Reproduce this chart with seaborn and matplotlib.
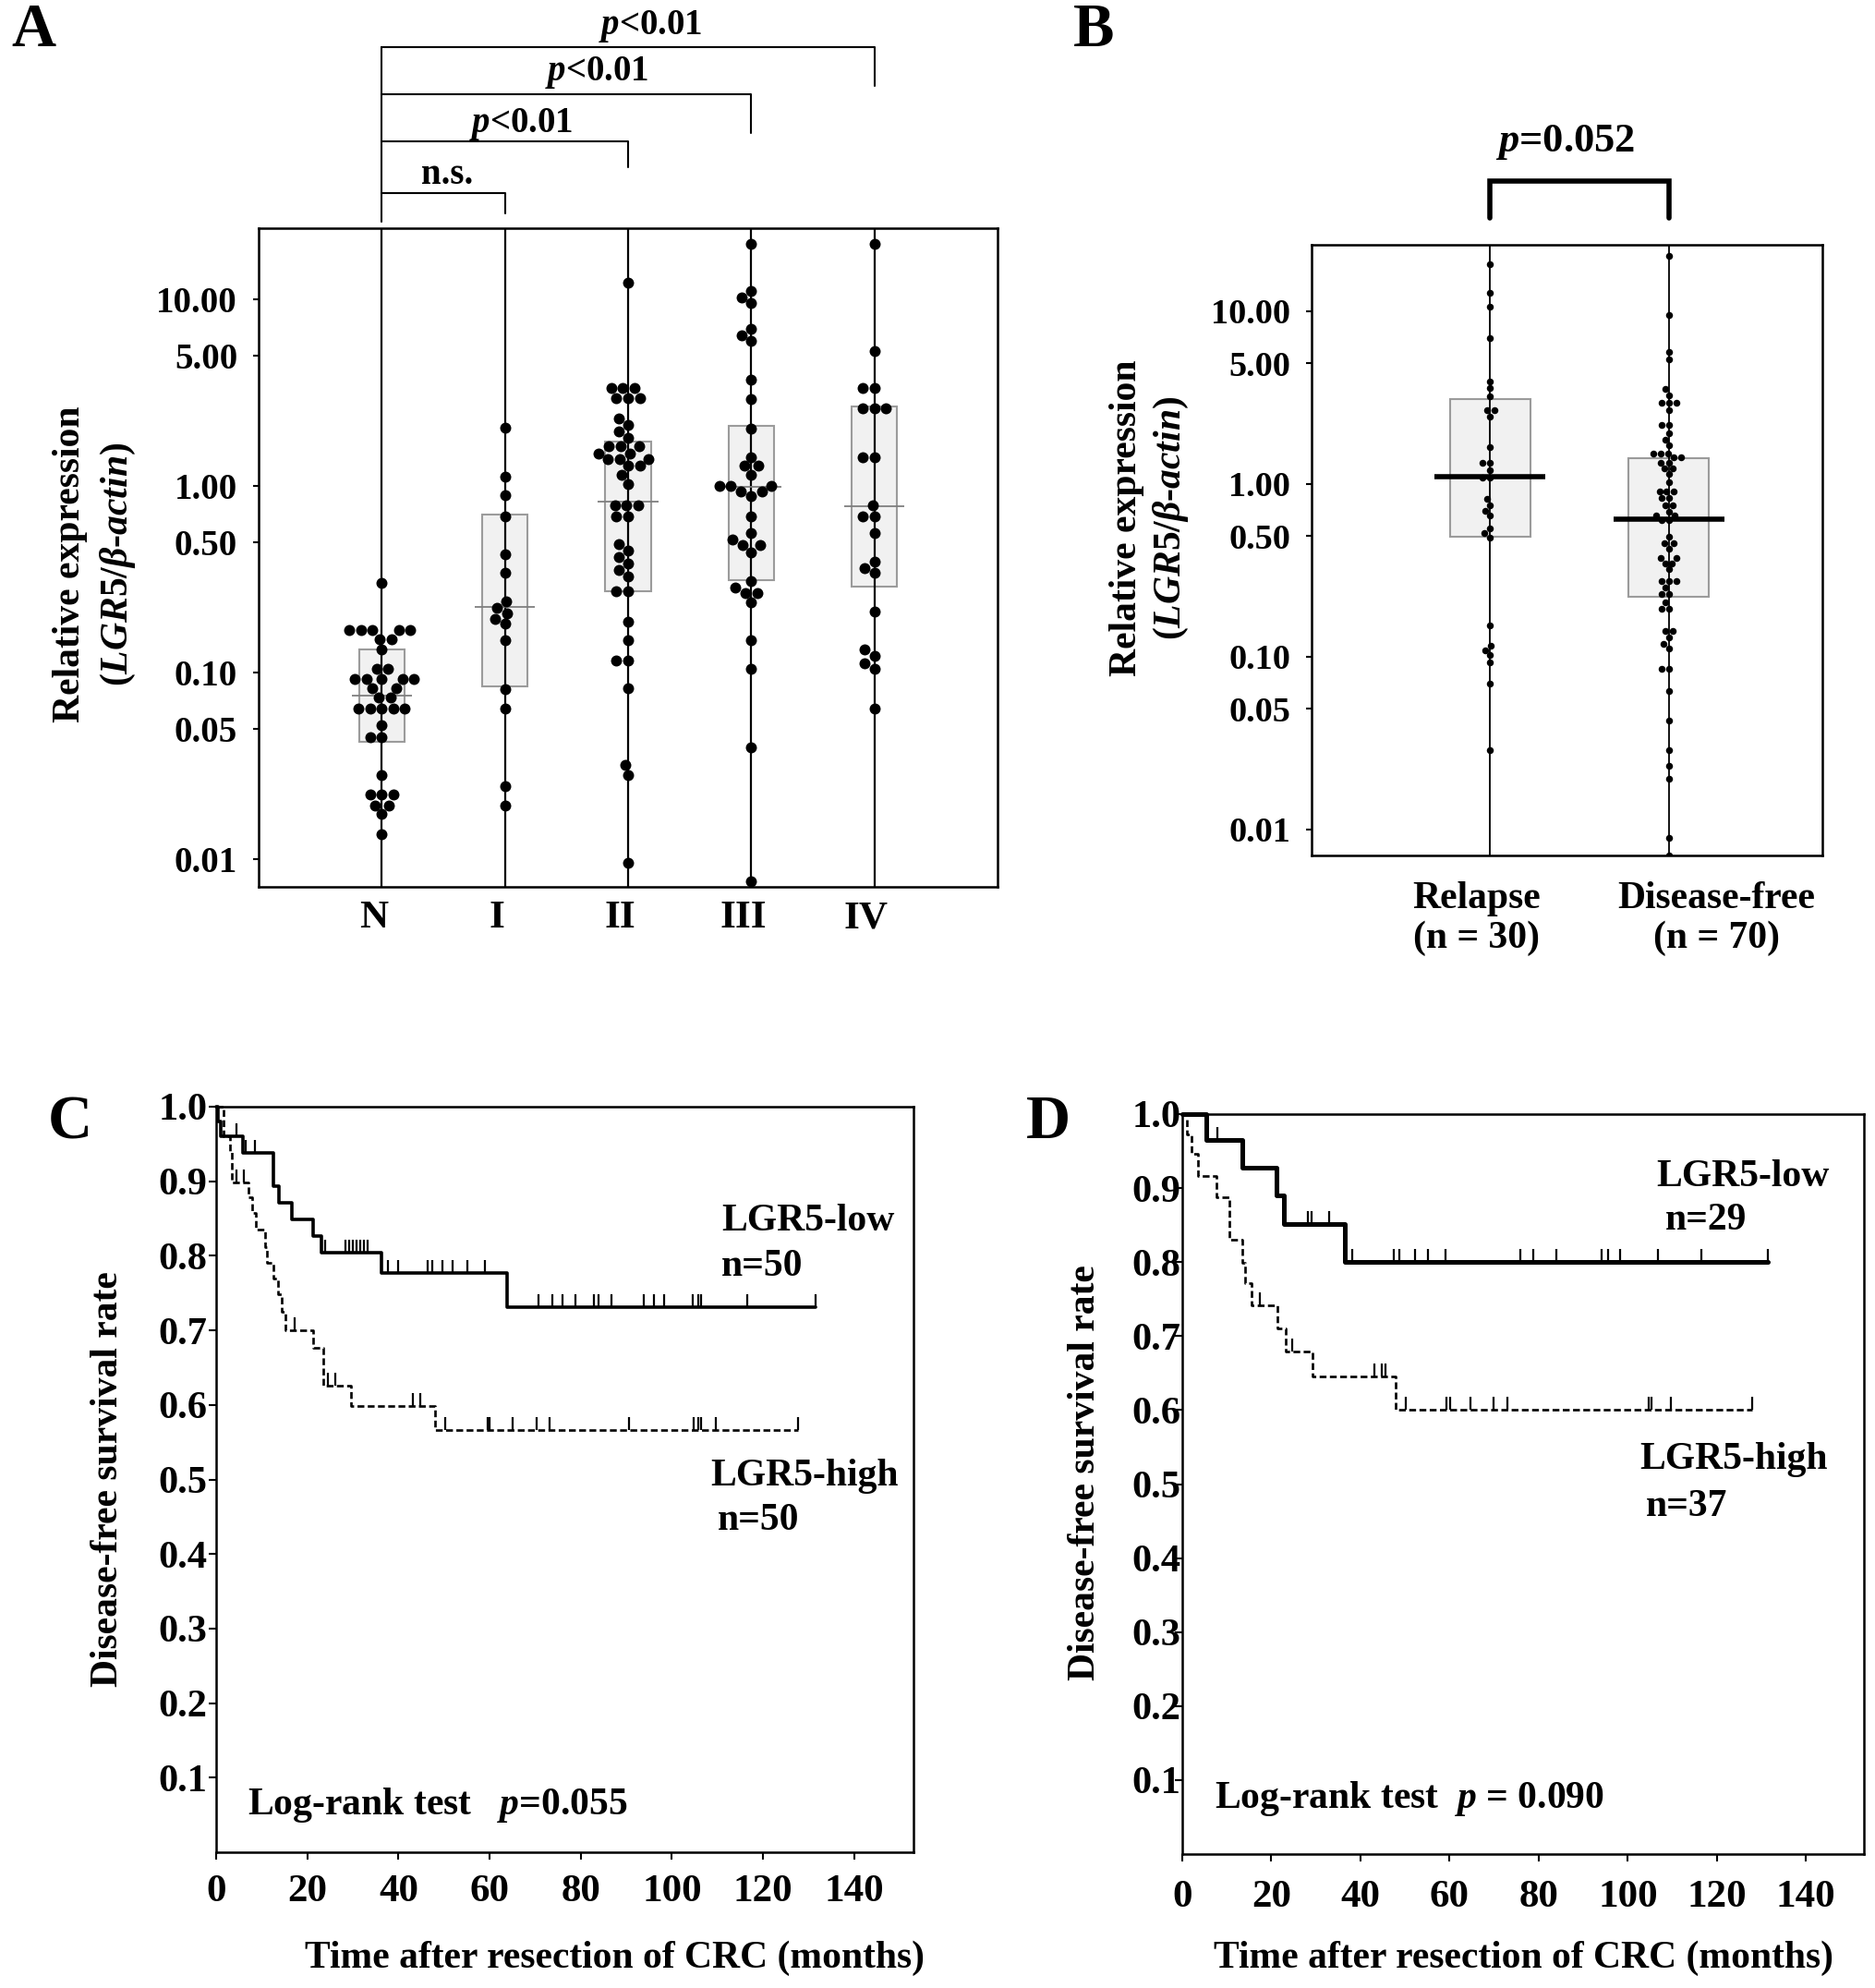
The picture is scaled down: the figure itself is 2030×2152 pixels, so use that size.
import numpy as np
import pandas as pd
import matplotlib
matplotlib.use("Agg")
import matplotlib.pyplot as plt
import matplotlib.transforms as mtransforms
from matplotlib.ticker import NullLocator
import seaborn as sns

sns.set_theme(style="ticks", rc={
    "text.color": "black", "axes.labelcolor": "black",
    "xtick.color": "black", "ytick.color": "black",
    "axes.edgecolor": "black",
})
plt.rcParams["font.family"] = ["Liberation Serif", "DejaVu Serif"]
plt.rcParams["font.weight"] = "bold"
plt.rcParams["axes.labelweight"] = "bold"
plt.rcParams["mathtext.fontset"] = "custom"
plt.rcParams["mathtext.it"] = "Liberation Serif:italic:bold"
plt.rcParams["mathtext.rm"] = "Liberation Serif:bold"
plt.rcParams["mathtext.bf"] = "Liberation Serif:bold"

# ---------------- data: panel A ----------------
stages = ["N", "I", "II", "III", "IV"]
expr_N = [0.302, 0.168, 0.168, 0.168, 0.168, 0.168, 0.151, 0.151, 0.132, 0.104, 0.104,
          0.092, 0.092, 0.092, 0.092, 0.092, 0.082, 0.082, 0.073, 0.073, 0.064, 0.064,
          0.064, 0.064, 0.064, 0.052, 0.045, 0.045, 0.028, 0.022, 0.022, 0.022, 0.0193,
          0.0193, 0.0173, 0.0136]
expr_I = [2.06, 1.12, 0.89, 0.69, 0.432, 0.342, 0.240, 0.222, 0.208, 0.194, 0.182, 0.149,
          0.0817, 0.064, 0.0245, 0.0193]
expr_II = [12.4, 3.34, 3.34, 3.34, 2.96, 2.96, 2.96, 2.30, 2.12, 1.96, 1.81, 1.63, 1.63,
           1.63, 1.50, 1.50, 1.40, 1.40, 1.40, 1.28, 1.28, 1.15, 1.03, 0.79, 0.79, 0.79,
           0.69, 0.69, 0.489, 0.451, 0.416, 0.384, 0.355, 0.327, 0.272, 0.272, 0.187,
           0.148, 0.116, 0.116, 0.082, 0.032, 0.028, 0.0095]
expr_III = [20.0, 11.1, 10.3, 9.58, 6.95, 6.45, 6.02, 3.72, 2.93, 2.04, 1.42, 1.28, 1.28,
            1.15, 1.00, 1.00, 1.00, 0.93, 0.93, 0.88, 0.69, 0.56, 0.515, 0.481, 0.481,
            0.440, 0.310, 0.286, 0.267, 0.267, 0.238, 0.149, 0.104, 0.0397, 0.0076]
expr_IV = [20.0, 5.32, 3.34, 3.34, 2.60, 2.60, 2.60, 1.42, 1.42, 0.79, 0.69, 0.69, 0.56,
           0.394, 0.364, 0.342, 0.213, 0.132, 0.122, 0.112, 0.104, 0.064]
box_q1_A = [0.0423, 0.0838, 0.272, 0.314, 0.290]
box_med_A = [0.0753, 0.225, 0.82, 0.99, 0.78]
box_q3_A = [0.133, 0.703, 1.73, 2.10, 2.66]
brackets_A = ["n.s.", "$p$<0.01", "$p$<0.01", "$p$<0.01"]

# ---------------- data: panel B ----------------
groups_B = ["Relapse", "Disease-free"]
labels_B = ["Relapse\n(n = 30)", "Disease-free\n(n = 70)"]
expr_relapse = [18.8, 12.8, 10.6, 6.99, 3.92, 3.57, 3.23, 2.67, 2.67, 2.46, 1.63, 1.33, 1.33,
                1.20, 1.09, 1.09, 0.815, 0.751, 0.699, 0.654, 0.555, 0.519, 0.491, 0.152,
                0.115, 0.109, 0.102, 0.0927, 0.0696, 0.0286]
expr_diseasefree = [20.8, 9.47, 5.77, 5.25, 3.55, 3.27, 2.93, 2.93, 2.93, 2.67, 2.20, 2.20,
                    1.97, 1.81, 1.67, 1.50, 1.50, 1.50, 1.42, 1.42, 1.33, 1.33, 1.23, 1.23,
                    1.14, 1.02, 0.90, 0.90, 0.90, 0.824, 0.824, 0.751, 0.751, 0.692, 0.655,
                    0.655, 0.619, 0.619, 0.497, 0.453, 0.453, 0.421, 0.373, 0.373, 0.347,
                    0.347, 0.320, 0.274, 0.274, 0.274, 0.250, 0.230, 0.230, 0.206, 0.190,
                    0.190, 0.140, 0.140, 0.129, 0.119, 0.112, 0.0853, 0.0853, 0.0630,
                    0.0428, 0.0286, 0.0234, 0.0195, 0.0089, 0.0071]
box_q1_B = [0.497, 0.223]
box_med_B = [1.10, 0.626]
box_q3_B = [3.11, 1.40]

ytick_vals = [0.01, 0.05, 0.10, 0.50, 1.00, 5.00, 10.00]
ytick_labels = ["0.01", "0.05", "0.10", "0.50", "1.00", "5.00", "10.00"]

# ---------------- data: panel C (Kaplan-Meier) ----------------
c_low_t = [0, 0.5, 1.0, 5.8, 12.6, 13.8, 16.6, 21.3, 23.1, 36.2, 63.9]
c_low_s = [1.0, 0.98, 0.96, 0.938, 0.893, 0.871, 0.849, 0.826, 0.804, 0.777, 0.731]
c_low_cens = [4.4, 6.5, 8.5, 24.0, 28.4, 29.2, 30.0, 30.8, 31.6, 32.4, 33.3, 37.7, 39.9,
              46.4, 47.5, 49.7, 51.9, 55.1, 59.0, 70.7, 73.7, 75.9, 78.8, 82.8, 83.8, 86.8,
              93.9, 96.1, 98.3, 104.6, 105.7, 106.4, 116.6, 131.6]
c_high_t = [0, 1.6, 3.1, 3.5, 7.1, 7.9, 8.7, 10.7, 11.1, 12.6, 13.6, 14.4, 15.1, 21.3, 23.5,
            29.5, 48.0]
c_high_s = [1.0, 0.96, 0.94, 0.898, 0.878, 0.857, 0.835, 0.812, 0.79, 0.77, 0.748, 0.725,
            0.70, 0.676, 0.626, 0.599, 0.566]
c_high_cens = [4.4, 6.0, 17.2, 24.6, 26.2, 43.1, 44.8, 50.2, 59.5, 60.0, 65.0, 70.4, 73.1,
               90.6, 104.8, 105.7, 106.4, 109.7, 127.7]

# ---------------- data: panel D (Kaplan-Meier) ----------------
d_low_t = [0, 5.3, 13.4, 21.1, 22.9, 36.4]
d_low_s = [1.0, 0.965, 0.928, 0.89, 0.851, 0.80]
d_low_cens = [7.9, 28.1, 29.0, 33.0, 38.1, 47.4, 48.8, 52.2, 55.1, 59.0, 75.9, 78.7, 84.0,
              94.1, 95.6, 98.3, 106.7, 116.6, 131.4]
d_high_t = [0, 1.1, 2.1, 3.5, 7.7, 10.5, 13.4, 14.2, 15.5, 21.4, 23.2, 29.3, 47.9]
d_high_s = [1.0, 0.973, 0.946, 0.916, 0.888, 0.83, 0.799, 0.772, 0.742, 0.71, 0.679, 0.645,
            0.601]
d_high_cens = [17.4, 24.6, 43.2, 44.8, 45.6, 50.1, 59.3, 60.1, 64.6, 69.9, 73.0, 104.6,
               105.4, 109.6, 128.0]

km_yticks = [0.1, 0.2, 0.3, 0.4, 0.5, 0.6, 0.7, 0.8, 0.9, 1.0]
km_xticks = [0, 20, 40, 60, 80, 100, 120, 140]

# ---------------- figure ----------------
W, H = 2031, 2152
fig = plt.figure(figsize=(W / 100, H / 100), dpi=100)

def px_axes(l, t, r, b):
    return fig.add_axes([l / W, 1 - b / H, (r - l) / W, (b - t) / H])

def frame(ax, lw=1.8):
    for sp in ax.spines.values():
        sp.set_visible(True)
        sp.set_color("black")
        sp.set_linewidth(lw)

YLIM_LOG = (0.00706, 24.2)

# ===== Panel A =====
axA = px_axes(280, 247, 1080, 960)
axA.set_yscale("log")
axA.set_ylim(*YLIM_LOG)
groups_A = [expr_N, expr_I, expr_II, expr_III, expr_IV]
df_A = pd.DataFrame({
    "stage": np.repeat(stages, [len(g) for g in groups_A]),
    "expr": np.concatenate(groups_A),
})
sns.swarmplot(data=df_A, x="stage", y="expr", order=stages, color="black", size=8.6,
              linewidth=0, ax=axA, zorder=3)
posA = np.arange(len(stages))
axA.bar(posA, np.array(box_q3_A) - np.array(box_q1_A), bottom=box_q1_A, width=0.37,
        color="#f1f1f1", edgecolor="#9b9b9b", linewidth=1.5, zorder=0.5)
for p in posA:
    axA.axvline(p, color="black", lw=1.6, zorder=1)
axA.hlines(box_med_A, posA - 0.245, posA + 0.245, color="#7f7f7f", lw=1.3, zorder=2)
axA.set_xlim(-1, 5)
axA.set_ylim(*YLIM_LOG)
axA.set_yticks(ytick_vals, ytick_labels)
axA.yaxis.set_minor_locator(NullLocator())
axA.set_xticks(posA, stages)
axA.tick_params(axis="x", length=0, pad=11, labelsize=31)
axA.tick_params(axis="y", length=4.5, width=1.5, pad=12, labelsize=28, direction="out")
for lab in axA.get_xticklabels():
    lab.set_transform(lab.get_transform() +
                      mtransforms.ScaledTranslation(-0.09, 0, fig.dpi_scale_trans))
axA.set_xlabel("")
axA.set_ylabel("")
frame(axA)

# brackets A
trA = axA.get_xaxis_transform()
axA.plot([0, 0], [1.010, 1.275], transform=trA, color="black", lw=1.5, clip_on=False)
br_specs = [(1, 1.053, 1.022, 0.53, 1.080), (2, 1.132, 1.093, 1.13, 1.158),
            (3, 1.203, 1.144, 1.75, 1.237), (4, 1.275, 1.216, 2.18, 1.307)]
for (xr, ylev, yleg, tx, ty), lab in zip(br_specs, brackets_A):
    axA.plot([0, xr, xr], [ylev, ylev, yleg], transform=trA, color="black", lw=1.5,
             clip_on=False)
    axA.text(tx, ty, lab, transform=trA, ha="center", va="center", fontsize=28,
             fontweight="bold")

fig.text(76 / W, 1 - 611 / H, "Relative expression", rotation=90, ha="center",
         va="center", fontsize=30, fontweight="bold")
fig.text(128 / W, 1 - 611 / H, "($LGR5/β$-$actin$)", rotation=90, ha="center",
         va="center", fontsize=30, fontweight="bold")

# ===== Panel B =====
axB = px_axes(1420, 265, 1973, 926)
axB.set_yscale("log")
axB.set_ylim(*YLIM_LOG)
df_B = pd.DataFrame({
    "group": np.repeat(groups_B, [len(expr_relapse), len(expr_diseasefree)]),
    "expr": np.concatenate([expr_relapse, expr_diseasefree]),
})
sns.swarmplot(data=df_B, x="group", y="expr", order=groups_B, color="black", size=5.4,
              linewidth=0, ax=axB, zorder=3)
posB = np.arange(len(groups_B))
axB.bar(posB, np.array(box_q3_B) - np.array(box_q1_B), bottom=box_q1_B, width=0.45,
        color="#f1f1f1", edgecolor="#9b9b9b", linewidth=1.5, zorder=0.5)
for p in posB:
    axB.axvline(p, color="black", lw=1.3, zorder=1)
axB.hlines(box_med_B, posB - 0.31, posB + 0.31, color="black", lw=4, zorder=4)
axB.set_xlim(-1.0, 1.86)
axB.set_ylim(*YLIM_LOG)
axB.set_yticks(ytick_vals, ytick_labels)
axB.yaxis.set_minor_locator(NullLocator())
axB.set_xticks(posB, labels_B)
axB.tick_params(axis="x", length=0, pad=20, labelsize=30)
axB.tick_params(axis="y", length=4.5, width=1.5, pad=12, labelsize=27.5, direction="out")
for lab, dx in zip(axB.get_xticklabels(), [-0.15, 0.52]):
    lab.set_linespacing(1.15)
    lab.set_transform(lab.get_transform() +
                      mtransforms.ScaledTranslation(dx, 0, fig.dpi_scale_trans))
axB.set_xlabel("")
axB.set_ylabel("")
frame(axB)

trB = axB.get_xaxis_transform()
axB.plot([0, 0, 1, 1], [1.044, 1.104, 1.104, 1.044], transform=trB, color="black", lw=4,
         clip_on=False, solid_joinstyle="miter")
axB.text(0.42, 1.168, "$p$=0.052", transform=trB, ha="center", va="center", fontsize=32,
         fontweight="bold")
fig.text(1220 / W, 1 - 561 / H, "Relative expression", rotation=90, ha="center",
         va="center", fontsize=30, fontweight="bold")
fig.text(1268 / W, 1 - 561 / H, "($LGR5/β$-$actin$)", rotation=90, ha="center",
         va="center", fontsize=30, fontweight="bold")

# ===== KM panels =====
def km_panel(ax, low_t, low_s, low_c, high_t, high_s, high_c, low_lw, texts, logrank,
             ypad, xpad, xlab_xy, ylab_xy):
    for t, s, c, lw, ls in [(low_t, low_s, low_c, low_lw, "-"),
                            (high_t, high_s, high_c, 1.9, (0, (2.8, 1.4)))]:
        t_ext = list(t) + [max(c)]
        s_ext = list(s) + [s[-1]]
        df = pd.DataFrame({"time": t_ext, "surv": s_ext})
        sns.lineplot(data=df, x="time", y="surv", drawstyle="steps-post", estimator=None,
                     sort=False, color="black", lw=lw, linestyle=ls, ax=ax, clip_on=False)
        idx = np.searchsorted(np.array(t), np.array(c), side="right") - 1
        ax.plot(c, np.array(s)[idx], ls="none", marker=2, ms=10, mew=1.6, color="black")
    ax.set_xlim(0, 153)
    ax.set_ylim(0, 1.0)
    ax.set_yticks(km_yticks, [f"{v:.1f}" for v in km_yticks])
    ax.set_xticks(km_xticks, [str(v) for v in km_xticks])
    ax.tick_params(axis="y", length=6, width=1.5, pad=ypad, labelsize=30.5, direction="out",
                   left=True)
    ax.tick_params(axis="x", length=6, width=1.5, pad=xpad, labelsize=31, direction="out",
                   bottom=True)
    frame(ax)
    for txt, x, y in texts:
        ax.text(x, y, txt, ha="left", va="center", fontsize=30, fontweight="bold")
    ax.text(logrank[1], logrank[2], logrank[0], ha="left", va="center", fontsize=30,
            fontweight="bold")
    ax.set_xlabel("Time after resection of CRC (months)", fontsize=30, fontweight="bold")
    ax.xaxis.set_label_coords(*xlab_xy)
    ax.xaxis.label.set_va("center")
    ax.set_ylabel("Disease-free survival rate", fontsize=30, fontweight="bold")
    ax.yaxis.set_label_coords(*ylab_xy)
    ax.yaxis.label.set_va("center")

axC = px_axes(234, 1198, 989, 2005)
km_panel(axC, c_low_t, c_low_s, c_low_cens, c_high_t, c_high_s, c_high_cens, 2.6,
         [("LGR5-low", 110.8, 0.846), ("n=50", 110.8, 0.786),
          ("LGR5-high", 108.5, 0.504), ("n=50", 110.0, 0.445)],
         ("Log-rank test   $p$=0.055", 6.9, 0.063), 1, 11,
         (0.571, -0.1425), (-0.155, 0.50))

axD = px_axes(1280, 1206, 2018, 2007)
km_panel(axD, d_low_t, d_low_s, d_low_cens, d_high_t, d_high_s, d_high_cens, 3.6,
         [("LGR5-low", 106.4, 0.915), ("n=29", 108.5, 0.857),
          ("LGR5-high", 102.7, 0.533), ("n=37", 104.1, 0.470)],
         ("Log-rank test  $p$ = 0.090", 7.3, 0.075), -5, 14,
         (0.50, -0.141), (-0.142, 0.516))

# panel letters
for lab, x, y in [("A", 36, 34), ("B", 1184, 34), ("C", 76, 1216), ("D", 1135, 1216)]:
    fig.text(x / W, 1 - y / H, lab, ha="center", va="center", fontsize=48,
             fontweight="bold")

fig.savefig("out.png", dpi=100)
